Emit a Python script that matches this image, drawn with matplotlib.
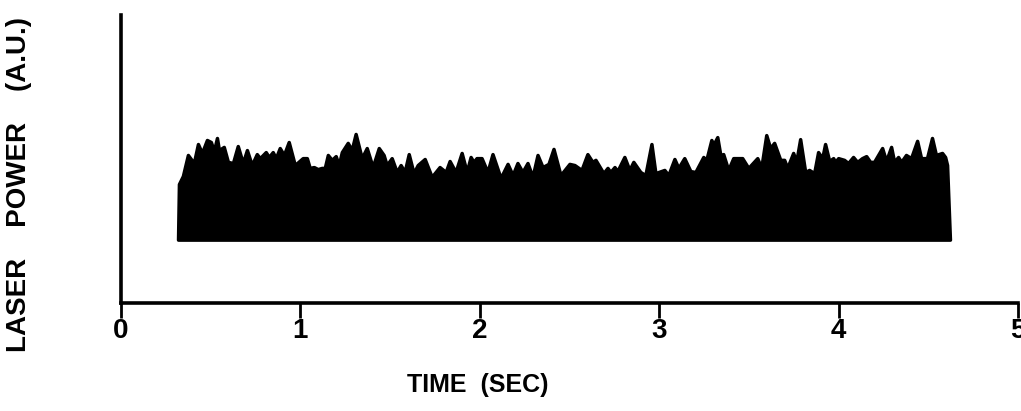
import numpy as np
import matplotlib
matplotlib.use("Agg")
import matplotlib.pyplot as plt

# upper envelope of the laser power trace
time_sec = [
    0.318, 0.323, 0.345, 0.373, 0.406, 0.429, 0.451, 0.479, 0.501, 0.518, 0.535,
    0.546, 0.573, 0.596, 0.624, 0.651, 0.679, 0.702, 0.729, 0.757, 0.774, 0.807,
    0.824, 0.846, 0.863, 0.885, 0.908, 0.935, 0.969, 1.013, 1.036, 1.052, 1.075,
    1.097, 1.119, 1.136, 1.153, 1.175, 1.197, 1.214, 1.231, 1.264, 1.286, 1.308,
    1.342, 1.370, 1.403, 1.437, 1.464, 1.481, 1.509, 1.537, 1.559, 1.581, 1.604,
    1.631, 1.654, 1.693, 1.732, 1.776, 1.810, 1.832, 1.865, 1.899, 1.927, 1.949,
    1.965, 1.982, 2.010, 2.043, 2.071, 2.116, 2.155, 2.183, 2.210, 2.238, 2.266,
    2.294, 2.322, 2.350, 2.383, 2.411, 2.450, 2.500, 2.528, 2.567, 2.600, 2.628,
    2.645, 2.689, 2.712, 2.728, 2.751, 2.767, 2.806, 2.834, 2.856, 2.895, 2.923,
    2.957, 2.979, 3.029, 3.051, 3.085, 3.107, 3.140, 3.174, 3.202, 3.246, 3.263,
    3.291, 3.302, 3.324, 3.341, 3.357, 3.385, 3.413, 3.463, 3.497, 3.547, 3.569,
    3.597, 3.619, 3.641, 3.675, 3.697, 3.714, 3.747, 3.764, 3.786, 3.814, 3.836,
    3.864, 3.886, 3.909, 3.925, 3.948, 3.970, 3.981, 3.998, 4.031, 4.053, 4.081,
    4.104, 4.131, 4.154, 4.176, 4.198, 4.243, 4.265, 4.293, 4.310, 4.332, 4.349,
    4.376, 4.404, 4.438, 4.460, 4.493, 4.521, 4.543, 4.577, 4.594, 4.605, 4.621,
]
power_top = [
    22.0, 41.3, 44.1, 51.4, 48.6, 55.2, 52.1, 56.6, 55.9, 52.8, 57.3,
    53.1, 54.2, 49.0, 48.6, 54.5, 48.6, 53.1, 47.9, 51.7, 50.3, 52.4,
    50.7, 52.4, 50.3, 53.8, 51.4, 55.9, 47.9, 50.3, 50.3, 46.9, 47.2,
    46.5, 46.9, 46.9, 51.4, 49.7, 51.0, 47.9, 52.4, 55.6, 53.1, 58.7,
    50.3, 53.8, 47.2, 53.8, 51.4, 47.9, 50.3, 45.5, 47.9, 45.5, 51.7,
    45.1, 47.9, 50.0, 43.8, 47.2, 45.5, 49.3, 45.5, 52.1, 45.5, 50.7,
    49.0, 50.3, 50.3, 45.5, 51.7, 43.4, 48.3, 44.4, 48.6, 45.5, 48.6,
    43.8, 51.4, 47.2, 48.3, 53.5, 44.4, 48.3, 47.9, 46.2, 51.7, 49.0,
    49.7, 45.1, 46.9, 45.5, 47.2, 45.8, 50.7, 46.2, 49.0, 45.5, 44.4,
    55.2, 45.1, 46.2, 44.4, 50.0, 46.9, 50.3, 45.8, 45.5, 50.7, 49.7,
    56.6, 54.9, 57.6, 51.4, 51.7, 46.2, 50.3, 50.3, 46.9, 50.3, 46.9,
    58.3, 53.8, 55.6, 49.7, 49.7, 46.9, 52.1, 49.0, 56.9, 45.5, 46.2,
    45.1, 52.4, 50.3, 55.2, 49.3, 50.3, 49.0, 50.3, 49.7, 48.6, 50.7,
    49.0, 50.3, 51.0, 49.0, 49.0, 53.8, 49.3, 54.2, 49.0, 50.7, 49.0,
    51.4, 50.3, 56.3, 50.3, 50.3, 57.3, 51.4, 52.1, 50.7, 47.9, 22.0,
]
power_base = 22.0
x_ticks = [0, 1, 2, 3, 4, 5]

FONT = ['Liberation Sans Narrow', 'Liberation Sans', 'DejaVu Sans']

fig = plt.figure(figsize=(10.21, 4.11), dpi=100)
ax = fig.add_axes([0.1185, 0.2628, 0.8785, 0.7007])

# thick round-joined outline softens the peaks like the scanned trace
ax.fill_between(time_sec, power_base, power_top, color='black', lw=2.5,
                edgecolor='black', joinstyle='round')

ax.set_xlim(0, 5)
ax.set_ylim(0, 100)
for side in ['top', 'right']:
    ax.spines[side].set_visible(False)
for side in ['left', 'bottom']:
    ax.spines[side].set_linewidth(2.6)
ax.set_yticks([])
ax.set_xticks(x_ticks)
ax.set_xticklabels([str(t) for t in x_ticks], fontsize=20, fontweight='bold',
                   family=FONT)
ax.tick_params(axis='x', direction='out', length=11, width=2, pad=0)

fig.text(478 / 1021, 1 - 385 / 411, 'TIME  (SEC)', fontsize=18, fontweight='bold',
         family=['Liberation Sans', 'DejaVu Sans'], ha='center', va='center')
fig.text(19 / 1021, 1 - 185 / 411, 'LASER    POWER    (A.U.)', fontsize=20,
         fontweight='bold', family=['Liberation Sans', 'DejaVu Sans'], rotation=90,
         ha='center', va='center')

fig.savefig('out.png', dpi=100)
